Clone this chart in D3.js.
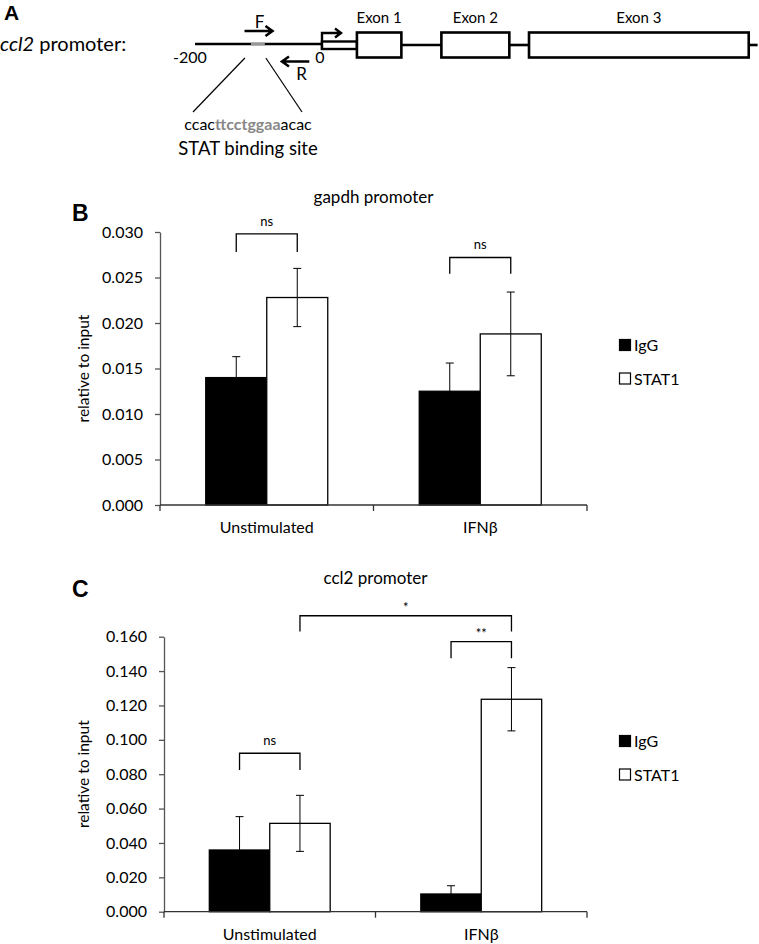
<!DOCTYPE html>
<html>
<head>
<meta charset="utf-8">
<script src="https://cdn.jsdelivr.net/npm/d3@7"></script>
<style>
  body { margin: 0; background: #fff; }
  text { font-family: Lato, "Open Sans", sans-serif; fill: #000; }
</style>
</head>
<body>
<script>
// ---- data ----
const groups = ["Unstimulated", "IFNβ"];
const series = ["IgG", "STAT1"];

const gapdhIgG = [0.0140, 0.0125];
const gapdhIgGErr = [0.0023, 0.0031];
const gapdhStat1 = [0.0228, 0.0188];
const gapdhStat1Err = [0.0032, 0.0046];
const gapdhTicks = [0, 0.005, 0.010, 0.015, 0.020, 0.025, 0.030];

const ccl2IgG = [0.0359, 0.0103];
const ccl2IgGErr = [0.0194, 0.0048];
const ccl2Stat1 = [0.0514, 0.1236];
const ccl2Stat1Err = [0.0163, 0.0184];
const ccl2Ticks = [0, 0.020, 0.040, 0.060, 0.080, 0.100, 0.120, 0.140, 0.160];

// significance brackets: ends are [group, series], top / foot in data units
const gapdhSig = [
  {label: "ns", from: [0, 0], to: [0, 1], top: 0.0298, foot: 0.0278},
  {label: "ns", from: [1, 0], to: [1, 1], top: 0.0272, foot: 0.0254}
];
const ccl2Sig = [
  {label: "ns", from: [0, 0], to: [0, 1], top: 0.0922, foot: 0.0825},
  {label: "*", from: [0, 1], to: [1, 1], top: 0.1722, foot: 0.1630},
  {label: "**", from: [1, 0], to: [1, 1], top: 0.1571, foot: 0.1475}
];

// promoter diagram, positions in bp relative to the TSS
const promoterStart = -200;
const statSite = [-112, -90];
const primerF = [-122, -78];
const primerR = [-20, -63];
const utr = [0, 55];
const exonNames = ["Exon 1", "Exon 2", "Exon 3"];
const exonStarts = [55, 188, 326];
const exonEnds = [125, 295, 672];
const geneEnd = 686;
const sitePieces = ["ccac", "ttcctggaa", "acac"];

// ---- drawing ----
const svg = d3.select("body").append("svg")
  .attr("width", 759)
  .attr("height", 944);

drawPromoter();

drawChart({
  letter: "B", letterY: 221,
  title: "gapdh promoter", titleY: 203,
  left: 160, right: 587, bottom: 505, top: 232,
  ticks: gapdhTicks,
  values: [gapdhIgG, gapdhStat1],
  errs: [gapdhIgGErr, gapdhStat1Err],
  sig: gapdhSig,
  legendY: 339
});

drawChart({
  letter: "C", letterY: 597,
  title: "ccl2 promoter", titleY: 584,
  left: 164, right: 587, bottom: 911.7, top: 636.7,
  ticks: ccl2Ticks,
  values: [ccl2IgG, ccl2Stat1],
  errs: [ccl2IgGErr, ccl2Stat1Err],
  sig: ccl2Sig,
  legendY: 735
});

function drawChart(c) {
  var g = svg.append("g");

  var x0 = d3.scaleBand().domain(groups).range([c.left, c.right]);
  var x1 = d3.scaleBand().domain(series).range([0, x0.bandwidth()]).paddingOuter(0.75);
  var y = d3.scaleLinear().domain([0, d3.max(c.ticks)]).range([c.bottom, c.top]);

  var barX = function (gi, si) {
    return x0(groups[gi]) + x1(series[si]) + x1.bandwidth() / 2;
  };

  g.append("text")
    .attr("x", 72).attr("y", c.letterY)
    .style("font-family", "Liberation Sans, Arial, sans-serif")
    .style("font-weight", "bold")
    .style("font-size", "23px")
    .text(c.letter);

  g.append("text")
    .attr("x", (c.left + c.right) / 2).attr("y", c.titleY)
    .attr("text-anchor", "middle")
    .style("font-size", "17px")
    .text(c.title);

  // y axis
  var yAxis = g.append("g")
    .attr("transform", "translate(" + c.left + ",0)")
    .call(d3.axisLeft(y).tickValues(c.ticks).tickFormat(d3.format(".3f")).tickSize(5).tickSizeOuter(0));
  yAxis.select(".domain").attr("stroke", "#555").attr("stroke-width", 1.3);
  yAxis.selectAll(".tick line").attr("stroke", "#555").attr("stroke-width", 1.3);
  yAxis.selectAll(".tick text")
    .attr("x", -17)
    .style("font-family", "Lato, sans-serif")
    .style("font-size", "16px")
    .attr("fill", "#000");

  g.append("text")
    .attr("transform", "translate(89," + (c.bottom + c.top) / 2 + ") rotate(-90)")
    .attr("text-anchor", "middle")
    .style("font-size", "15.5px")
    .text("relative to input");

  // bars
  var barData = [];
  groups.forEach(function (grp, gi) {
    series.forEach(function (s, si) {
      barData.push({gi: gi, si: si, v: c.values[si][gi], e: c.errs[si][gi]});
    });
  });

  g.selectAll(".bar")
    .data(barData)
    .enter()
    .append("rect")
    .attr("class", "bar")
    .attr("x", function (d) { return x0(groups[d.gi]) + x1(series[d.si]); })
    .attr("y", function (d) { return y(d.v); })
    .attr("width", x1.bandwidth())
    .attr("height", function (d) { return c.bottom - y(d.v); })
    .attr("fill", function (d) { return d.si === 0 ? "#000" : "#fff"; })
    .attr("stroke", "#000")
    .attr("stroke-width", 1.3);

  // error bars
  var eb = g.selectAll(".err")
    .data(barData)
    .enter()
    .append("g")
    .attr("class", "err")
    .attr("stroke", "#000")
    .attr("stroke-width", 1);
  eb.append("line")
    .attr("x1", function (d) { return barX(d.gi, d.si); })
    .attr("x2", function (d) { return barX(d.gi, d.si); })
    .attr("y1", function (d) { return y(d.v - d.e); })
    .attr("y2", function (d) { return y(d.v + d.e); });
  [1, -1].forEach(function (sign) {
    eb.append("line")
      .attr("x1", function (d) { return barX(d.gi, d.si) - 4; })
      .attr("x2", function (d) { return barX(d.gi, d.si) + 4; })
      .attr("y1", function (d) { return y(d.v + sign * d.e); })
      .attr("y2", function (d) { return y(d.v + sign * d.e); });
  });

  // x axis
  g.append("line")
    .attr("x1", c.left).attr("x2", c.right)
    .attr("y1", c.bottom).attr("y2", c.bottom)
    .attr("stroke", "#333").attr("stroke-width", 1.3);
  var bounds = d3.range(groups.length + 1).map(function (i) { return c.left + i * x0.step(); });
  g.selectAll(".xtick")
    .data(bounds)
    .enter()
    .append("line")
    .attr("x1", function (d) { return d; })
    .attr("x2", function (d) { return d; })
    .attr("y1", c.bottom)
    .attr("y2", c.bottom + 6)
    .attr("stroke", "#333").attr("stroke-width", 1.3);
  g.selectAll(".xlab")
    .data(groups)
    .enter()
    .append("text")
    .attr("x", function (d) { return x0(d) + x0.bandwidth() / 2; })
    .attr("y", c.bottom + 28)
    .attr("text-anchor", "middle")
    .style("font-size", "16px")
    .text(function (d) { return d; });

  // significance brackets
  var sg = g.selectAll(".sig")
    .data(c.sig)
    .enter()
    .append("g");
  sg.append("path")
    .attr("fill", "none")
    .attr("stroke", "#000")
    .attr("stroke-width", 1.3)
    .attr("d", function (d) {
      var xa = barX(d.from[0], d.from[1]), xb = barX(d.to[0], d.to[1]);
      return "M" + xa + "," + y(d.foot) + "V" + y(d.top) + "H" + xb + "V" + y(d.foot);
    });
  sg.append("text")
    .attr("x", function (d) { return (barX(d.from[0], d.from[1]) + barX(d.to[0], d.to[1])) / 2; })
    .attr("y", function (d) { return y(d.top) - (d.label === "ns" ? 8 : 4); })
    .attr("text-anchor", "middle")
    .style("font-size", "13px")
    .attr("fill", "#333")
    .text(function (d) { return d.label; });

  // legend
  var lg = g.selectAll(".leg")
    .data(series)
    .enter()
    .append("g")
    .attr("transform", function (d, i) { return "translate(619," + (c.legendY + i * 33.5) + ")"; });
  lg.append("rect")
    .attr("x", 0.5).attr("y", 0.5)
    .attr("width", 11).attr("height", 11)
    .attr("fill", function (d, i) { return i === 0 ? "#000" : "#fff"; })
    .attr("stroke", "#000")
    .attr("stroke-width", 1.2);
  lg.append("text")
    .attr("x", 15).attr("y", 12)
    .style("font-size", "16px")
    .text(function (d) { return d; });
}

function drawPromoter() {
  var g = svg.append("g");
  var x = d3.scaleLinear().domain([promoterStart, 0]).range([195, 322]);
  var lineY = 44;

  g.append("text")
    .attr("x", 4).attr("y", 20)
    .style("font-family", "Liberation Sans, Arial, sans-serif")
    .style("font-weight", "bold")
    .style("font-size", "21px")
    .text("A");

  var lab = g.append("text").attr("x", 0).attr("y", 51).style("font-size", "20px");
  lab.append("tspan").style("font-style", "italic").text("ccl2");
  lab.append("tspan").text(" promoter:");

  // promoter line
  g.append("line")
    .attr("x1", x(promoterStart)).attr("x2", x(0))
    .attr("y1", lineY).attr("y2", lineY)
    .attr("stroke", "#000").attr("stroke-width", 2.6);
  g.append("line")
    .attr("x1", x(statSite[0])).attr("x2", x(statSite[1]))
    .attr("y1", lineY).attr("y2", lineY)
    .attr("stroke", "#999").attr("stroke-width", 2.8);

  g.append("text").attr("x", x(promoterStart) - 5).attr("y", 63)
    .attr("text-anchor", "middle").style("font-size", "16px").text(String(promoterStart));
  g.append("text").attr("x", x(0) - 2).attr("y", 63)
    .attr("text-anchor", "middle").style("font-size", "16px").text("0");

  // primers
  function arrow(a, b, yy) {
    var dir = b > a ? 1 : -1;
    var xb = x(b);
    g.append("path")
      .attr("fill", "none")
      .attr("stroke", "#000")
      .attr("stroke-width", 2.6)
      .attr("d", "M" + x(a) + "," + yy + "H" + xb +
        "M" + (xb - dir * 7) + "," + (yy - 5) + "L" + xb + "," + yy + "L" + (xb - dir * 7) + "," + (yy + 5));
  }
  arrow(primerF[0], primerF[1], 31);
  arrow(primerR[0], primerR[1], 61.5);
  g.append("text").attr("x", (x(primerF[0]) + x(primerF[1])) / 2 + 1).attr("y", 28)
    .attr("text-anchor", "middle").style("font-size", "17px").text("F");
  g.append("text").attr("x", (x(primerR[0]) + x(primerR[1])) / 2 + 6).attr("y", 80)
    .attr("text-anchor", "middle").style("font-size", "17px").text("R");

  // zoom lines to site sequence
  g.append("line").attr("x1", x(statSite[0]) - 6).attr("y1", 58).attr("x2", 193).attr("y2", 112)
    .attr("stroke", "#000").attr("stroke-width", 1.2);
  g.append("line").attr("x1", x(statSite[1]) + 1).attr("y1", 58).attr("x2", 302).attr("y2", 112)
    .attr("stroke", "#000").attr("stroke-width", 1.2);

  var seq = g.append("text").attr("x", 248).attr("y", 130)
    .attr("text-anchor", "middle").style("font-size", "16px");
  sitePieces.forEach(function (p, i) {
    var t = seq.append("tspan").text(p);
    if (i === 1) t.style("fill", "#888").style("font-weight", "bold");
  });
  g.append("text").attr("x", 248).attr("y", 155)
    .attr("text-anchor", "middle").style("font-size", "18.5px").text("STAT binding site");

  // TSS bent arrow
  var x0 = x(0);
  g.append("path")
    .attr("fill", "none").attr("stroke", "#000").attr("stroke-width", 2.4)
    .attr("d", "M" + x0 + "," + 50 + "V" + 33 + "H" + (x0 + 19) +
      "M" + (x0 + 13) + "," + 28.5 + "L" + (x0 + 19) + "," + 33 + "L" + (x0 + 13) + "," + 37.5);

  // UTR
  g.append("rect")
    .attr("x", x(utr[0])).attr("y", 41.5)
    .attr("width", x(utr[1]) - x(utr[0])).attr("height", 7.5)
    .attr("fill", "#fff").attr("stroke", "#000").attr("stroke-width", 2.4);

  // introns / tail
  var segs = [];
  for (var i = 0; i < exonStarts.length - 1; i++) segs.push([exonEnds[i], exonStarts[i + 1]]);
  segs.push([exonEnds[exonEnds.length - 1], geneEnd]);
  g.selectAll(".intron").data(segs).enter().append("line")
    .attr("x1", function (d) { return x(d[0]); })
    .attr("x2", function (d) { return x(d[1]); })
    .attr("y1", 45).attr("y2", 45)
    .attr("stroke", "#000").attr("stroke-width", 2.6);

  g.selectAll(".exon").data(exonNames).enter().append("rect")
    .attr("x", function (d, i) { return x(exonStarts[i]); })
    .attr("y", 32.5)
    .attr("width", function (d, i) { return x(exonEnds[i]) - x(exonStarts[i]); })
    .attr("height", 25)
    .attr("fill", "#fff").attr("stroke", "#000").attr("stroke-width", 2.6);

  g.selectAll(".exlab").data(exonNames).enter().append("text")
    .attr("x", function (d, i) { return (x(exonStarts[i]) + x(exonEnds[i])) / 2; })
    .attr("y", 23)
    .attr("text-anchor", "middle")
    .style("font-size", "15px")
    .text(function (d) { return d; });
}
</script>
</body>
</html>
